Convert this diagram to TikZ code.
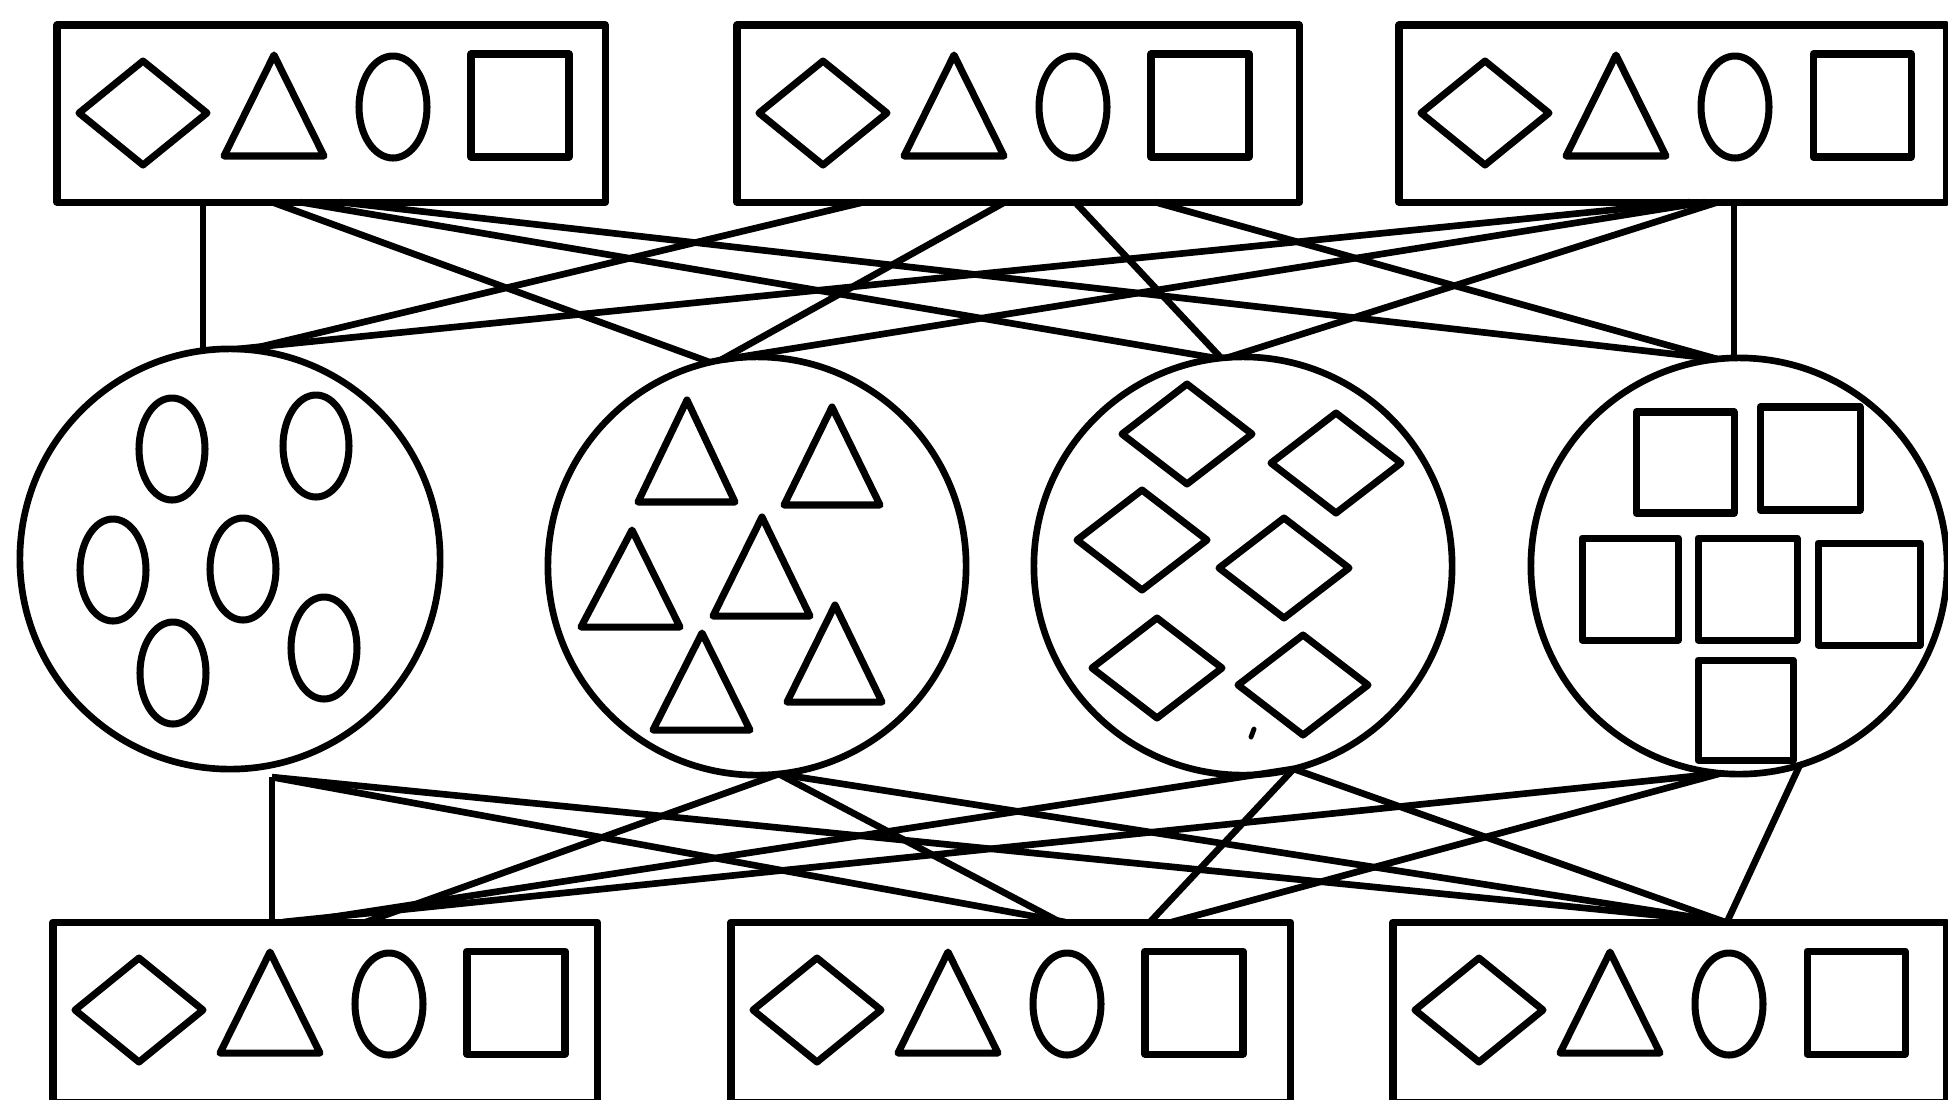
\documentclass[tikz,border=0pt]{standalone}
\usetikzlibrary{calc}
\begin{document}
\begin{tikzpicture}[x=0.01cm,y=-0.01cm,line join=round,
  box/.style={draw,line width=2pt,minimum height=1.77cm,inner sep=0pt,outer sep=0pt,anchor=north west},
  ring/.style={draw,circle,line width=1.9pt,inner sep=0pt,outer sep=0pt},
  link/.style={line width=1.9pt},
  sym/.style={line width=2pt},
  symrow/.pic={
    \draw[sym] (86,36) -- (150,88) -- (86,140) -- (22,88) -- cycle;
    \draw[sym] (217,30) -- (267,131) -- (167,131) -- cycle;
    \draw[sym] (336,82) ellipse [x radius=34, y radius=51];
    \draw[sym] (414,29) rectangle (512,132);
  }]
\useasboundingbox (0,0) rectangle (1948,1099);
\fill[white] (0,0) rectangle (1948,1099);

% boxes
\node[box,minimum width=5.48cm] (T1) at (57,25) {};
\node[box,minimum width=5.62cm] (T2) at (737,25) {};
\node[box,minimum width=5.47cm] (T3) at (1399,25) {};
\node[box,minimum width=5.44cm,minimum height=1.80cm] (B1) at (53,922) {};
\node[box,minimum width=5.59cm,minimum height=1.80cm] (B2) at (731,922) {};
\node[box,minimum width=5.53cm,minimum height=1.80cm] (B3) at (1393,922) {};
\foreach \b in {T1,T2,T3,B1,B2,B3} { \pic at (\b.north west) {symrow}; }

% circles
\node[ring,minimum size=4.2cm] (C1) at (230,559) {};
\node[ring,minimum size=4.18cm] (C2) at (757,566) {};
\node[ring,minimum size=4.18cm] (C3) at (1243,566) {};
\node[ring,minimum size=4.16cm] (C4) at (1739,566) {};

% ovals
\foreach \cx/\cy in {172/449,316/446,113/570,243/569,173/673,324/648}
  \draw[sym] (\cx,\cy) ellipse [x radius=33, y radius=51];
% triangles
\foreach \ax/\ay/\l/\r/\by in {687/400/638/735/502, 832/407/784/880/505, 632/530/581/680/627,
    762/517/713/810/616, 702/633/653/750/730, 835/605/787/882/702}
  \draw[sym] (\ax,\ay) -- (\r,\by) -- (\l,\by) -- cycle;
% diamonds
\foreach \cx/\cy in {1187/434,1336/463,1142/540,1284/568,1157/668,1303/685}
  \draw[sym] (\cx,\cy-50) -- (\cx+65,\cy) -- (\cx,\cy+50) -- (\cx-65,\cy) -- cycle;
\draw[line width=1.4pt,line cap=round] (1251,737) -- (1254,729);
% squares
\foreach \xa/\ya/\xb/\yb in {1636/412/1734/513, 1760/407/1860/510, 1582/538/1678/640,
    1698/538/1797/640, 1818/543/1920/645, 1698/660/1793/760}
  \draw[sym] (\xa,\ya) rectangle (\xb,\yb);

% upper connectors
\coordinate (t1v) at ($(T1.south west)+(146,0)$);
\coordinate (t3v) at ($(T3.south west)+(335,0)$);
\draw[link] (t1v) -- (t1v |- C1.north);
\draw[link] ($(T1.south west)+(215,0)$) -- (C2.103);
\draw[link] ($(T1.south west)+(243,0)$) -- (C3.97);
\draw[link] ($(T1.south west)+(283,0)$) -- (C4.96);
\draw[link] ($(T2.south west)+(127,0)$) -- (C1.85);
\draw[link] ($(T2.south west)+(268,0)$) -- (C2.100);
\draw[link] ($(T2.south west)+(338,0)$) -- (C3.96);
\draw[link] ($(T2.south west)+(418,0)$) -- (C4.96);
\draw[link] ($(T3.south west)+(291,0)$) -- (C1.88);
\draw[link] ($(T3.south west)+(306,0)$) -- (C2.99);
\draw[link] ($(T3.south west)+(319,0)$) -- (C3.94);
\draw[link] (t3v) -- (t3v |- C4.north);

% lower connectors
\coordinate (c1b) at ($(C1.south)+(42,8)$);
\draw[link] (c1b) -- (c1b |- B1.north);
\draw[link] (c1b) -- ($(B2.north west)+(334,0)$);
\draw[link] (c1b) -- ($(B3.north west)+(332,0)$);
\draw[link] (C2.-84) -- ($(B1.north west)+(313,0)$);
\draw[link] (C2.-84) -- ($(B2.north west)+(329,0)$);
\draw[link] (C2.-84) -- ($(B3.north west)+(332,0)$);
\draw[link] (C3.-76) -- ($(B1.north west)+(247,0)$);
\draw[link] (C3.-76) -- ($(B2.north west)+(419,0)$);
\draw[link] (C3.-76) -- ($(B3.north west)+(332,0)$);
\draw[link] (C4.-95) -- ($(B1.north west)+(230,0)$);
\draw[link] (C4.-95) -- ($(B2.north west)+(441,0)$);
\draw[link] (C4.-73) -- ($(B3.north west)+(334,0)$);
\end{tikzpicture}
\end{document}
